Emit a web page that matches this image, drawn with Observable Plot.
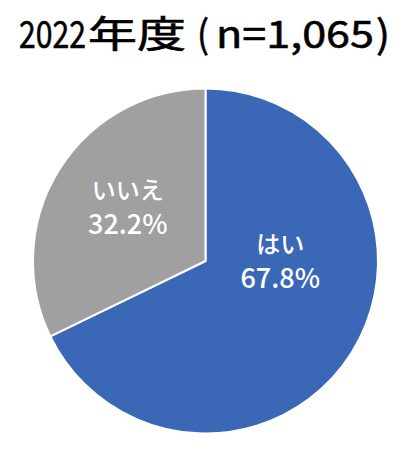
<!DOCTYPE html>
<html><head><meta charset="utf-8">
<script src="https://cdn.jsdelivr.net/npm/d3@7"></script>
<script src="https://cdn.jsdelivr.net/npm/@observablehq/plot@0.6"></script>
<style>
html,body{margin:0;padding:0;background:#fff;}
#title{display:block;}
#title text{font-family:"Noto Sans CJK JP";font-weight:400;fill:#000;stroke:#000;stroke-width:0.6px;}
</style></head>
<body>
<svg id="title" width="415" height="70"></svg>
<div id="chart"></div>
<script>
const titleParts = ["2022", "年度", "(", "n=1,065", ")"];
const categories = ["はい", "いいえ"];
const values = [67.8, 32.2];
const colors = ["#3b68b6", "#a0a0a0"];

// title layout (pixel boxes for each part of the heading)
const titleBoxes = [[19, 67, 38], [88, 98, 37], [197, 12, 38], [216, 158, 38], [376, 14, 38]];
const tsvg = document.getElementById("title");
titleParts.forEach((s, i) => {
  const [x, w, fs] = titleBoxes[i];
  const t = document.createElementNS("http://www.w3.org/2000/svg", "text");
  t.setAttribute("font-size", fs);
  t.textContent = s;
  tsvg.appendChild(t);
  const nat = t.getComputedTextLength();
  t.setAttribute("transform", `translate(${x},48) scale(${w / nat},1)`);
});

const data = categories.map((c, i) => ({name: c, value: values[i], color: colors[i]}));
const arcs = d3.pie().sort(null).value(d => d.value)(data);
const labelArc = d3.arc().innerRadius(0.535).outerRadius(0.535);
const labels = arcs.map(a => {
  const [cx, cy] = labelArc.centroid(a);
  return {name: a.data.name, pct: a.data.value.toFixed(1) + "%", x: cx, y: -cy};
});

function pieMark(index, scales, values, dimensions) {
  const ns = "http://www.w3.org/2000/svg";
  const g = document.createElementNS(ns, "g");
  const r = scales.x(1) - scales.x(0);
  const arc = d3.arc().innerRadius(0).outerRadius(r);
  g.setAttribute("transform", `translate(${scales.x(0)},${scales.y(0)})`);
  for (const a of arcs) {
    const p = document.createElementNS(ns, "path");
    p.setAttribute("d", arc(a));
    p.setAttribute("fill", a.data.color);
    p.setAttribute("stroke", "#fff");
    p.setAttribute("stroke-width", 2);
    p.setAttribute("stroke-linejoin", "round");
    g.appendChild(p);
  }
  return g;
}

const offsets = {"はい": [-4, -49], "いいえ": [0, -5]};
const chart = Plot.plot({
  width: 415,
  height: 393,
  marginLeft: 33, marginRight: 37, marginTop: 19, marginBottom: 30,
  x: {domain: [-1, 1], axis: null},
  y: {domain: [-1, 1], axis: null},
  style: {fontFamily: "Noto Sans CJK JP", background: "#fff"},
  marks: [
    pieMark,
    ...categories.map(c => [
      Plot.text(labels.filter(d => d.name === c), {x: "x", y: "y", text: "name", dx: offsets[c][0], dy: offsets[c][1] - 16, fill: "#fff", fontSize: 24, fontWeight: 500, ariaLabel: "name"}),
      Plot.text(labels.filter(d => d.name === c), {x: "x", y: "y", text: "pct", dx: offsets[c][0], dy: offsets[c][1] + 18, fill: "#fff", fontSize: 27, fontWeight: 500, ariaLabel: "pct"})
    ]).flat()
  ]
});
chart.querySelectorAll('g[aria-label="name"] text').forEach(t => t.setAttribute("letter-spacing", "1"));
chart.querySelectorAll('g[aria-label="pct"] text').forEach(t => {
  const s = t.textContent;
  t.setAttribute("letter-spacing", "2");
  if (s.endsWith("%")) {
    t.textContent = s.slice(0, -1);
    const ts = document.createElementNS("http://www.w3.org/2000/svg", "tspan");
    ts.setAttribute("font-size", "17");
    ts.setAttribute("font-weight", "400");
    ts.textContent = "%";
    t.appendChild(ts);
  }
});
document.getElementById("chart").appendChild(chart);
</script>
</body></html>
